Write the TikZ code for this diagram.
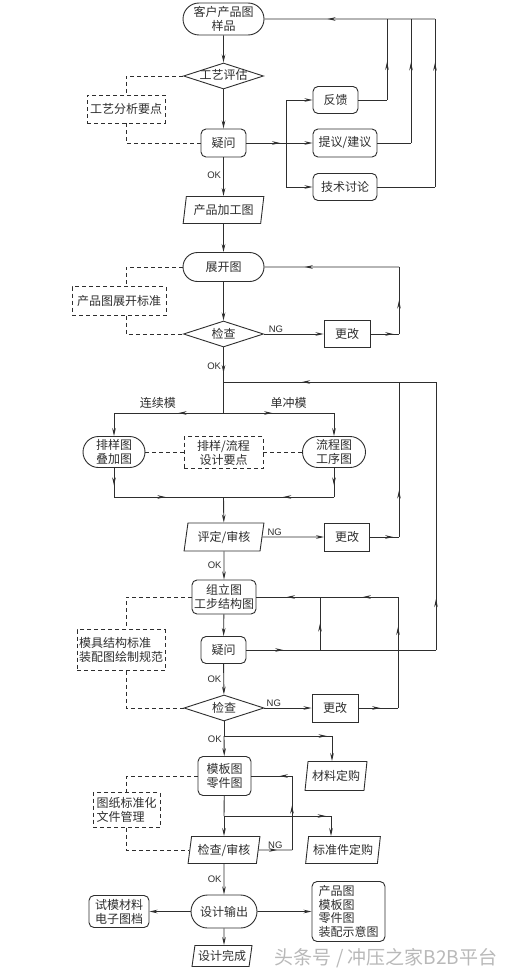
\documentclass[tikz,border=0pt]{standalone}
\usepackage{fontspec}
\setmainfont{Noto Sans CJK SC}
\newfontfamily\latn{Liberation Sans}
\usetikzlibrary{shapes.geometric,shapes.misc,arrows.meta,decorations.markings,calc}
\definecolor{lc}{HTML}{2E2E2E}
\begin{document}
\begin{tikzpicture}[x=1pt,y=-1pt,
  base/.style={draw=lc, line width=0.9pt, text=lc, inner sep=0pt, align=center,
    font=\fontsize{12}{14}\selectfont},
  stad/.style={base, rounded rectangle},
  rbox/.style={base, rectangle, rounded corners=5pt},
  sbox/.style={base, rectangle},
  dbox/.style={base, rectangle, dash pattern=on 4pt off 3pt},
  dia/.style={base, diamond, aspect=3, minimum width=80pt, minimum height=26pt,
    text height=9pt, text depth=1pt},
  para/.style={base, trapezium, trapezium left angle=77, trapezium right angle=103,
    trapezium stretches=true},
  lab/.style={text=lc, inner sep=0pt, font=\fontsize{12}{14}\selectfont},
  oklab/.style={text=lc, inner sep=0pt, font=\latn\fontsize{9.5}{10}\selectfont},
  line/.style={draw=lc, line width=0.9pt},
  dline/.style={line, dash pattern=on 4pt off 3pt},
  arr/.style={line, -{Stealth[length=8pt,width=3.6pt]}},
  marr/.style={line, postaction={decorate}, decoration={markings,
    mark=at position #1 with {\arrow{Stealth[length=8pt,width=3.6pt]}}}},
  marr/.default=0.5]
\useasboundingbox (0,0) rectangle (512,974);
\fill[white] (0,0) rectangle (512,974);

% ---------- section 1 ----------
\node[stad, minimum width=81pt, minimum height=32pt] (n1) at (223.5,19) {客户产品图\\样品};
\node[dia] (d1) at (223.5,76) {工艺评估};
\node[rbox, minimum width=45pt, minimum height=28pt] (q1) at (223.5,143) {疑问};
\node[dbox, minimum width=78pt, minimum height=28pt] (k1) at (126,109) {工艺分析要点};
\node[para, minimum width=81pt, minimum height=27pt] (p1) at (223.5,210) {产品加工图};
\node[rbox, minimum width=45pt, minimum height=27pt] (f1) at (335.5,100) {反馈};
\node[rbox, minimum width=64pt, minimum height=28pt] (f2) at (345,143) {提议/建议};
\node[rbox, minimum width=64pt, minimum height=27pt] (f3) at (345,187) {技术讨论};

\coordinate (j1) at (286,143);
\coordinate (r1b) at (387,100); \coordinate (r1t) at (387,19);
\coordinate (r2b) at (411,143); \coordinate (r2t) at (411,19);
\coordinate (r3b) at (435,187); \coordinate (r3t) at (435,19);

\draw[arr] (n1) -- (d1);
\draw[arr] (d1) -- (q1);
\draw[arr] (q1) -- node[oklab, left=2pt, pos=0.45] {OK} (p1);
\draw[dline] (d1) -| (k1);
\draw[dline] (k1) |- (q1);
\draw[marr=0.85] (q1) -- (j1);
\draw[arr] (j1) |- (f1);
\draw[arr] (j1) -- (f2);
\draw[arr] (j1) |- (f3);
\draw[line] (f1) -- (r1b);
\draw[marr=0.47] (r1b) -- (r1t);
\draw[line] (f2) -- (r2b);
\draw[marr=0.65] (r2b) -- (r2t);
\draw[line] (f3) -- (r3b);
\draw[marr=0.74] (r3b) -- (r3t);
\draw[marr=0.63] (r3t) -- (n1);

% ---------- section 2 ----------
\node[stad, minimum width=81pt, minimum height=29pt] (n2) at (223.5,267) {展开图};
\node[dbox, minimum width=94pt, minimum height=29pt] (k2) at (119,301) {产品图展开标准};
\node[dia] (d2) at (223.5,334) {检查};
\node[sbox, minimum width=46pt, minimum height=27pt] (g2) at (347,334) {更改};

\draw[arr] (p1) -- (n2);
\draw[arr] (n2) -- (d2);
\draw[dline] (n2) -| ([xshift=7pt]k2.north);
\draw[dline] ([xshift=7pt]k2.south) |- (d2);
\draw[arr] (d2) -- node[oklab, above=1pt, pos=0.2] {NG} (g2);

\coordinate (e2b) at (399,334); \coordinate (e2t) at (399,267);
\draw[marr=0.8] (g2) -- (e2b);
\draw[marr=0.5] (e2b) -- (e2t);
\draw[marr=0.7] (e2t) -- (n2);

\coordinate (j2) at (223.5,382); \coordinate (j3) at (223.5,413);
\draw[marr=0.74] (d2) -- node[oklab, left=2pt, pos=0.55] {OK} (j2);
\draw[line] (j2) -- (j3);

\node[stad, minimum width=62pt, minimum height=31pt] (n3l) at (114,452) {排样图\\叠加图};
\node[dbox, minimum width=79pt, minimum height=32pt] (k3) at (223.5,452.5) {排样/流程\\设计要点};
\node[stad, minimum width=63pt, minimum height=31pt] (n3r) at (334,452) {流程图\\工序图};

\coordinate (b3l) at (114,413); \coordinate (b3r) at (334,413);
\draw[marr=0.41] (j3) -- node[lab, above=4pt, pos=0.6] {连续模} (b3l);
\draw[arr] (b3l) -- (n3l);
\draw[marr=0.44] (j3) -- node[lab, above=4pt, pos=0.59] {单冲模} (b3r);
\draw[arr] (b3r) -- (n3r);
\draw[dline] (n3l.east) -- (n3l.east -| k3.west);
\draw[dline] (k3.east |- n3r.west) -- (n3r.west);

\coordinate (b4l) at (114,497); \coordinate (b4r) at (334,497); \coordinate (j4) at (223.5,497);
\draw[marr=0.6] (n3l) -- (b4l);
\draw[marr=0.47] (b4l) -- (j4);
\draw[marr=0.6] (n3r) -- (b4r);
\draw[marr=0.46] (b4r) -- (j4);

\node[para, minimum width=80pt, minimum height=28pt] (p2) at (224,537) {评定/审核};
\node[sbox, minimum width=45pt, minimum height=28pt] (g3) at (347,537) {更改};
\draw[arr] (j4) -- (p2);
\draw[arr] (p2) -- node[oklab, above=1pt, pos=0.2] {NG} (g3);

\coordinate (e3b) at (399,537); \coordinate (e3t) at (399,382);
\draw[marr=0.8] (g3) -- (e3b);
\draw[marr=0.3] (e3b) -- (e3t);
\coordinate (r4t) at (436,382); \coordinate (r4b) at (436,650);
\draw[marr=0.63] (r4t) -- (j2);

% ---------- section 3 ----------
\node[rbox, minimum width=64pt, minimum height=34pt] (n4) at (224,597) {组立图\\工步结构图};
\node[rbox, minimum width=45pt, minimum height=27pt] (q2) at (223.5,650) {疑问};
\node[dbox, minimum width=88pt, minimum height=41pt, align=left] (k4) at (121,650) {模具结构标准\\装配图绘制规范};
\node[dia] (d3) at (224,708) {检查};
\node[sbox, minimum width=46pt, minimum height=28pt] (g4) at (335,708) {更改};

\draw[arr] (p2) -- node[oklab, left=2pt, pos=0.5] {OK} (n4);
\draw[arr] (n4) -- (q2);
\draw[arr] (q2) -- node[oklab, left=2pt, pos=0.5] {OK} (d3);
\draw[dline] (n4) -| ([xshift=5pt]k4.north);
\draw[dline] ([xshift=5pt]k4.south) |- (d3);
\draw[arr] (d3) -- node[oklab, above=1pt, pos=0.2] {NG} (g4);

\coordinate (e4b) at (398,708); \coordinate (e4t) at (398,597);
\coordinate (m4t) at (320,597); \coordinate (m4b) at (320,650);
\draw[marr=0.55] (g4) -- (e4b);
\draw[marr=0.73] (e4b) -- (e4t);
\draw[marr=0.45] (e4t) -- (m4t);
\draw[marr=0.52] (m4t) -- (n4);
\draw[marr=0.5] (q2) -- (m4b);
\draw[marr=0.5] (m4b) -- (m4t);
\draw[line] (m4b) -- (r4b);
\draw[marr=0.19] (r4b) -- (r4t);

% ---------- section 4 ----------
\node[rbox, minimum width=53pt, minimum height=39pt] (n5) at (224.5,776) {模板图\\零件图};
\node[para, minimum width=62pt, minimum height=29pt] (p3) at (336,776) {材料定购};
\node[dbox, minimum width=67pt, minimum height=35pt, align=left] (k5) at (126.5,810) {图纸标准化\\文件管理};
\node[para, minimum width=72pt, minimum height=27pt] (p4) at (224,850) {检查/审核};
\node[para, minimum width=75pt, minimum height=27pt] (p5) at (343,850) {标准件定购};

\coordinate (j5) at (224,736); \coordinate (b5) at (332,736);
\draw[line] (d3) -- (j5);
\draw[arr] (j5) -- node[oklab, left=2pt, pos=0.15] {OK} (n5);
\draw[marr=0.95] (j5) -- (b5);
\draw[arr] (b5) -- (b5 |- p3.north);

\draw[dline] (n5) -| (k5);
\draw[dline] (k5) |- (p4);

\coordinate (j6) at (224,816); \coordinate (b6) at (331,816);
\draw[line] (n5) -- (j6);
\draw[arr] (j6) -- (p4);
\draw[marr=0.95] (j6) -- (b6);
\draw[arr] (b6) -- (b6 |- p5.north);

\coordinate (e5b) at (292,850); \coordinate (e5t) at (292,776);
\draw[marr=0.55] (p4) -- node[oklab, above=1pt, pos=0.5] {NG} (e5b);
\draw[marr=0.6] (e5b) -- (e5t);
\draw[marr=0.3] (e5t) -- (n5);

% ---------- section 5 ----------
\node[stad, minimum width=66pt, minimum height=33pt] (n6) at (224,911.5) {设计输出};
\node[rbox, minimum width=60pt, minimum height=32pt] (t1) at (119,911.5) {试模材料\\电子图档};
\node[rbox, minimum width=73pt, minimum height=60pt, align=left,
  font=\fontsize{12}{13.5}\selectfont] (t2) at (348.5,911.5) {产品图\\模板图\\零件图\\装配示意图};
\node[para, minimum width=60pt, minimum height=21pt] (p6) at (222,956) {设计完成};

\draw[arr] (p4) -- node[oklab, left=2pt, pos=0.5] {OK} (n6);
\draw[arr] (n6) -- (t1);
\draw[arr] (n6) -- (t2);
\draw[arr] (n6) -- (n6 |- p6.north);

\node[text=gray!55, inner sep=0pt, font=\fontsize{19}{19}\selectfont] (wm) at (386,958) {头条号 / 冲压之家B2B平台};
\end{tikzpicture}
\end{document}
